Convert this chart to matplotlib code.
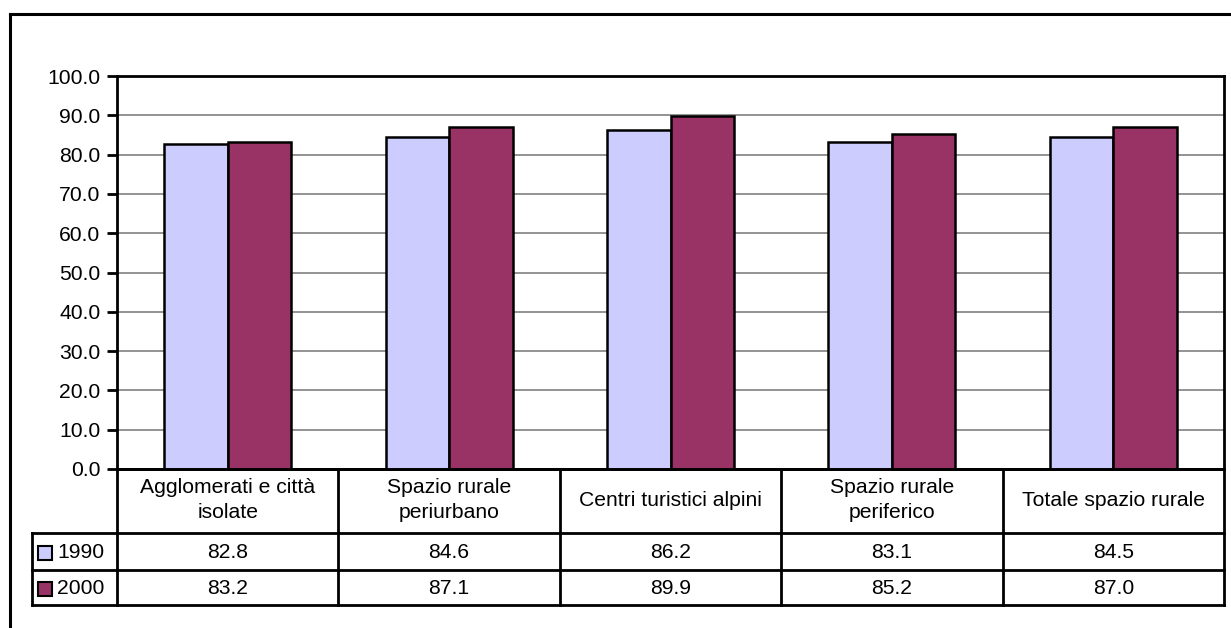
import matplotlib
matplotlib.use("Agg")
import matplotlib.pyplot as plt
from matplotlib.patches import Rectangle
from matplotlib.lines import Line2D
import numpy as np

plt.rcParams["font.family"] = ["Liberation Sans", "DejaVu Sans"]

categories = [
    "Agglomerati e città\nisolate",
    "Spazio rurale\nperiurbano",
    "Centri turistici alpini",
    "Spazio rurale\nperiferico",
    "Totale spazio rurale",
]
series_names = ["1990", "2000"]
values_1990 = [82.8, 84.6, 86.2, 83.1, 84.5]
values_2000 = [83.2, 87.1, 89.9, 85.2, 87.0]
y_ticks = [0, 10, 20, 30, 40, 50, 60, 70, 80, 90, 100]

colors = ["#CCCCFF", "#993366"]
W, H = 1231, 628
FS = 15.2

fig = plt.figure(figsize=(W / 100, H / 100), dpi=100)
fig.patch.set_facecolor("white")

# outer chart frame (extends past right/bottom edge)
fig.add_artist(Line2D([10 / W, 1.0], [1 - 14 / H, 1 - 14 / H], color="black", lw=2.2,
                      transform=fig.transFigure))
fig.add_artist(Line2D([10 / W, 10 / W], [1 - 14 / H, 0.0], color="black", lw=2.2,
                      transform=fig.transFigure))

px_left, px_right, px_top, px_bottom = 117, 1224, 76, 469
ax = fig.add_axes([px_left / W, 1 - px_bottom / H, (px_right - px_left) / W,
                   (px_bottom - px_top) / H])

x = np.arange(len(categories))
bw = 0.287
ax.bar(x - bw / 2, values_1990, bw, color=colors[0], edgecolor="black", linewidth=1.8, zorder=3)
ax.bar(x + bw / 2, values_2000, bw, color=colors[1], edgecolor="black", linewidth=1.8, zorder=3)

ax.set_xlim(-0.5, len(categories) - 0.5)
ax.set_ylim(0, 100)
ax.set_yticks(y_ticks)
ax.set_yticklabels([f"{t:.1f}" for t in y_ticks], fontsize=FS)
ax.set_xticks([])
ax.yaxis.grid(True, color="#808080", linewidth=1.2, zorder=0)
ax.set_axisbelow(True)
ax.tick_params(axis="y", direction="out", length=7, width=2, pad=5, color="black")
for side in ["left", "top", "right", "bottom"]:
    ax.spines[side].set_linewidth(2)
    ax.spines[side].set_color("black")

# data table below the plot area
tb_top, tb_h1, tb_r1, tb_bottom = 469, 533, 570, 605
tax = fig.add_axes([px_left / W, 1 - tb_bottom / H, (px_right - px_left) / W,
                    (tb_bottom - tb_top) / H])
tax.set_xlim(-0.5, len(categories) - 0.5)
tax.set_ylim(tb_bottom, tb_top)
tax.axis("off")

unit = (px_right - px_left) / len(categories)
x_leg = -0.5 - (px_left - 32) / unit
lw = 2
kw = dict(color="black", lw=lw, clip_on=False, solid_capstyle="projecting")
# horizontal rules
tax.plot([-0.5, 4.5], [tb_top, tb_top], **kw)
for yy in (tb_h1, tb_r1, tb_bottom):
    tax.plot([x_leg, 4.5], [yy, yy], **kw)
# vertical rules
tax.plot([x_leg, x_leg], [tb_h1, tb_bottom], **kw)
for k in range(len(categories) + 1):
    tax.plot([k - 0.5, k - 0.5], [tb_top, tb_bottom], **kw)

for i, cat in enumerate(categories):
    tax.text(i, (tb_top + tb_h1) / 2 - 1, cat, ha="center", va="center", fontsize=FS,
             linespacing=1.4)
    tax.text(i, (tb_h1 + tb_r1) / 2 + 1, f"{values_1990[i]:.1f}", ha="center",
             va="center", fontsize=FS)
    tax.text(i, (tb_r1 + tb_bottom) / 2 + 1, f"{values_2000[i]:.1f}", ha="center",
             va="center", fontsize=FS)

# legend keys in the first column
key = 14 / unit
rows = [((tb_h1 + tb_r1) / 2, series_names[0], colors[0]),
        ((tb_r1 + tb_bottom) / 2, series_names[1], colors[1])]
for yc, name, c in rows:
    tax.add_patch(Rectangle((x_leg + 6 / unit, yc - 7 + 1), key, 14, facecolor=c,
                            edgecolor="black", lw=1.5, clip_on=False))
    tax.text(x_leg + 25 / unit, yc + 1, name, ha="left", va="center", fontsize=FS)

fig.savefig("out.png", dpi=100, facecolor="white")
